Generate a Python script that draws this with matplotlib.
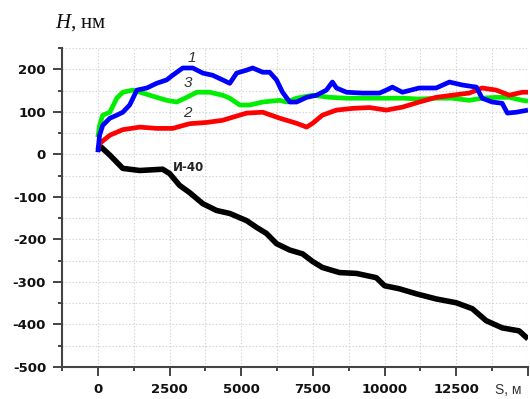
import matplotlib.pyplot as plt
from matplotlib.ticker import MultipleLocator

# Profile height H (nm) vs. path length S (m)
s_black = [0, 100, 420, 870, 1460, 2260, 2500, 2850, 3200, 3660, 4140, 4600, 5190, 5540,
           5880, 6230, 6690, 7140, 7490, 7830, 8430, 9020, 9710, 10000, 10510, 11110,
           11800, 12500, 13060, 13540, 14100, 14690, 15000]
h_black = [10, 18, -2, -33, -38, -35, -45, -73, -90, -116, -132, -139, -156, -172,
           -186, -210, -225, -234, -252, -266, -278, -280, -290, -309, -316, -328,
           -340, -349, -363, -391, -408, -415, -434]

s_red = [0, 70, 420, 870, 1460, 2050, 2610, 3200, 3800, 4350, 4840, 5190, 5750, 6340,
         6930, 7280, 7490, 7830, 8320, 8880, 9470, 10060, 10620, 11210, 11800, 12360,
         12950, 13400, 13890, 14350, 14800, 15000]
h_red = [12, 26, 45, 58, 64, 61, 61, 72, 75, 80, 90, 97, 99, 85,
         73, 64, 73, 92, 104, 108, 110, 104, 111, 123, 134, 139,
         144, 156, 151, 139, 146, 146]

s_green = [0, 60, 170, 420, 660, 870, 1220, 1570, 2050, 2400, 2750, 3100, 3450, 3900,
           4350, 4600, 4950, 5290, 5750, 6340, 6580, 6930, 7490, 8080, 8670, 9230,
           9820, 10620, 11210, 11800, 12360, 12950, 13400, 13890, 14350, 14800, 15000]
h_green = [40, 68, 92, 99, 132, 146, 151, 144, 134, 127, 123, 134, 146, 146,
           139, 132, 116, 116, 123, 127, 123, 132, 139, 134, 132, 132,
           132, 132, 130, 132, 132, 127, 132, 134, 134, 127, 125]

s_blue = [0, 60, 170, 420, 660, 870, 1110, 1360, 1710, 2050, 2400, 2610, 2960, 3310,
          3660, 4000, 4350, 4600, 4840, 5190, 5400, 5750, 5990, 6230, 6440, 6690,
          6930, 7280, 7630, 7970, 8180, 8320, 8670, 9230, 9820, 10060, 10270, 10620,
          11210, 11800, 12260, 12710, 13200, 13400, 13750, 14100, 14280, 14590, 15000]
h_blue = [5, 45, 68, 85, 92, 99, 116, 151, 156, 167, 175, 186, 203, 203,
          191, 186, 175, 167, 191, 198, 203, 193, 193, 175, 146, 123,
          123, 134, 139, 151, 170, 156, 146, 144, 144, 151, 158, 146,
          156, 156, 170, 163, 158, 132, 123, 120, 97, 99, 104]

x_ticks = [0, 2500, 5000, 7500, 10000, 12500, 15000]
x_labels = ["0", "2500", "5000", "7500", "10000", "12500", ""]
y_ticks = [-500, -400, -300, -200, -100, 0, 100, 200]

plt.rcParams["axes.unicode_minus"] = False
plt.rcParams["mathtext.fontset"] = "custom"
plt.rcParams["mathtext.it"] = "Liberation Serif:italic"
plt.rcParams["mathtext.rm"] = "Liberation Serif"

fig = plt.figure(figsize=(5.3, 3.99), dpi=100)
ax = fig.add_axes([62 / 530, 1 - 367 / 399, 466 / 530, (367 - 48) / 399])

ax.plot(s_black, h_black, color="black", lw=4.0, solid_capstyle="butt")
ax.plot(s_green, h_green, color="#00ee00", lw=3.4, solid_capstyle="butt")
ax.plot(s_red, h_red, color="#ff0000", lw=3.4, solid_capstyle="butt")
ax.plot(s_blue, h_blue, color="#0000ff", lw=3.4, solid_capstyle="butt")

ax.set_xlim(-1250, 15000)
ax.set_ylim(-500, 250)
ax.set_xticks(x_ticks)
ax.set_xticklabels(x_labels)
ax.set_yticks(y_ticks)
ax.xaxis.set_minor_locator(MultipleLocator(1250))
ax.yaxis.set_minor_locator(MultipleLocator(50))

ax.grid(which="both", color="#d2d2d2", linestyle=(0, (1.2, 1.8)), linewidth=0.8)
ax.set_axisbelow(True)

for side in ("top", "right"):
    ax.spines[side].set_visible(False)
for side in ("left", "bottom"):
    ax.spines[side].set_color("#444444")
    ax.spines[side].set_linewidth(1.5)

ax.tick_params(which="major", length=6.5, width=1.4, color="#444444", direction="out")
ax.tick_params(which="minor", length=3.2, width=1.4, color="#444444", direction="out")
ax.tick_params(axis="y", pad=5)
ax.tick_params(axis="x", pad=5)
for lbl in ax.get_xticklabels() + ax.get_yticklabels():
    lbl.set_fontfamily("DejaVu Sans")
    lbl.set_fontweight("bold")
    lbl.set_fontsize(9.5)
    lbl.set_color("#111111")

# curve labels
lab = dict(color="#333333", fontsize=11, style="italic", family="Liberation Sans",
           ha="center", va="center")
ax.text(3273, 226, "1", **lab)
ax.text(3134, 167, "3", **lab)
ax.text(3134, 97, "2", **lab)
ax.text(2611, -31, "И-40", fontsize=8.5, fontweight="bold", family="DejaVu Sans",
        color="#222222", ha="left", va="center")

fig.text(495 / 530, 1 - 390 / 399, "S, м", fontsize=10, family="Liberation Sans",
         color="#333333", ha="left", va="center")
fig.text(55 / 530, 1 - 28 / 399, r"$\mathit{H}$, нм", fontsize=15,
         family="Liberation Serif", color="#111111", ha="left", va="baseline")

fig.savefig("out.png", dpi=100)
